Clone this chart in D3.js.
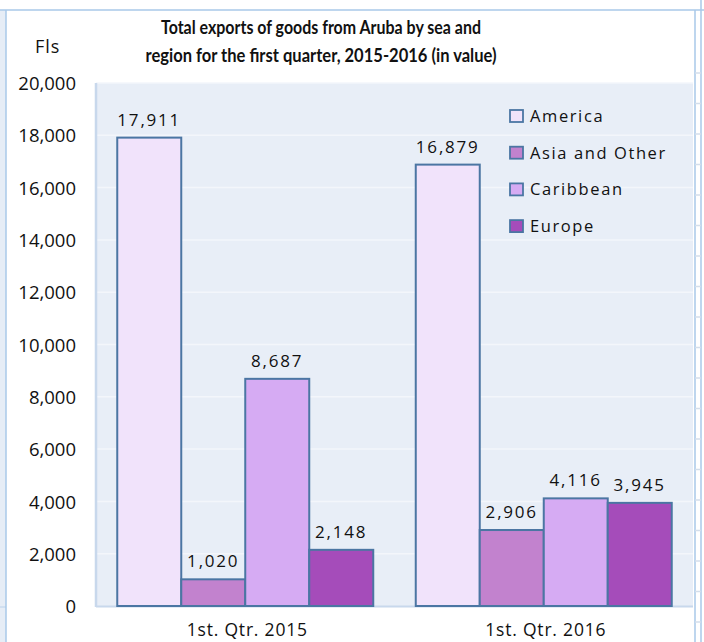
<!DOCTYPE html>
<html>
<head>
<meta charset="utf-8">
<script src="https://cdn.jsdelivr.net/npm/d3@7"></script>
<style>
  html, body { margin: 0; padding: 0; background: #ffffff; }
  svg { display: block; }
</style>
</head>
<body>
<svg id="chart" width="704" height="642"></svg>
<script>
// ---- data ----
const categories = ["1st. Qtr. 2015", "1st. Qtr. 2016"];
const seriesNames = ["America", "Asia and Other", "Caribbean", "Europe"];
const america = [17911, 16879];
const asiaOther = [1020, 2906];
const caribbean = [8687, 4116];
const europe = [2148, 3945];
const yTicks = [0, 2000, 4000, 6000, 8000, 10000, 12000, 14000, 16000, 18000, 20000];
const titleLines = ["Total exports of goods from Aruba by sea and",
                    "region for the first quarter, 2015-2016 (in value)"];
const unitLabel = "Fls";

const seriesValues = [america, asiaOther, caribbean, europe];
const colors = ["#F1E3FB", "#C282CE", "#D6ABF3", "#A54CBA"];

const svg = d3.select("#chart");
const W = 704, H = 642;
const plot = { left: 96, right: 693, top: 83, bottom: 606 };
const FONT = "'Open Sans', 'Liberation Sans', sans-serif";
const TITLE_FONT = "Lato, 'Open Sans', sans-serif";

// ---- frame (spreadsheet surroundings) ----
svg.append("rect").attr("x", 0).attr("y", 10).attr("width", 6).attr("height", H - 10).attr("fill", "#E6EDF6");
svg.append("line").attr("x1", 0).attr("x2", 6).attr("y1", 607).attr("y2", 607).attr("stroke", "#C9DAEE").attr("stroke-width", 1.5);
svg.append("rect").attr("x", 6).attr("y", 10).attr("width", 689).attr("height", H - 10).attr("fill", "#ffffff");
svg.append("line").attr("x1", 0).attr("x2", 704).attr("y1", 10).attr("y2", 10).attr("stroke", "#A9C8E8").attr("stroke-width", 1.5);
svg.append("line").attr("x1", 6).attr("x2", 6).attr("y1", 10).attr("y2", H).attr("stroke", "#A9C8E8").attr("stroke-width", 1.5);
svg.append("line").attr("x1", 695).attr("x2", 695).attr("y1", 10).attr("y2", H).attr("stroke", "#A9C8E8").attr("stroke-width", 1.5);
svg.append("line").attr("x1", 701).attr("x2", 701).attr("y1", 0).attr("y2", H).attr("stroke", "#A9C8E8").attr("stroke-width", 1.5);
const sideTicks = d3.range(0, 19).map(k => 622 - 30.5 * k).filter(v => v > 12);
svg.selectAll(".sidetick").data(sideTicks).join("line")
  .attr("x1", 695).attr("x2", 701).attr("y1", d => d).attr("y2", d => d)
  .attr("stroke", "#D3DEEB").attr("stroke-width", 1.5);

// ---- scales ----
const y = d3.scaleLinear().domain([0, 20000]).range([plot.bottom, plot.top]);
const x0 = d3.scaleBand().domain(categories).range([plot.left, plot.right])
  .paddingInner(0.1424).paddingOuter(0.0712);
const x1 = d3.scaleBand().domain(seriesNames).range([0, x0.bandwidth()]).padding(0);

// ---- plot area ----
svg.append("rect").attr("x", plot.left).attr("y", plot.top)
  .attr("width", plot.right - plot.left).attr("height", plot.bottom - plot.top)
  .attr("fill", "#E8EEF7");

svg.append("g").selectAll("line").data(yTicks.filter(t => t > 0)).join("line")
  .attr("x1", plot.left).attr("x2", plot.right)
  .attr("y1", d => y(d)).attr("y2", d => y(d))
  .attr("stroke", "#F3F6FB").attr("stroke-width", 1.5);

// left & bottom axis lines
svg.append("line").attr("x1", plot.left).attr("x2", plot.left).attr("y1", plot.top).attr("y2", plot.bottom + 1)
  .attr("stroke", "#C8D8EC").attr("stroke-width", 2.5);
svg.append("line").attr("x1", plot.left).attr("x2", plot.right).attr("y1", plot.bottom + 0.5).attr("y2", plot.bottom + 0.5)
  .attr("stroke", "#C8D8EC").attr("stroke-width", 2);

// ---- y axis ----
const yAxis = d3.axisLeft(y).tickValues(yTicks).tickFormat(d3.format(",")).tickSize(0).tickPadding(0);
const gy = svg.append("g").attr("transform", "translate(76,0)").call(yAxis);
gy.select(".domain").remove();
gy.selectAll("text").attr("font-family", FONT).attr("font-size", 18.5).attr("fill", "#111")
  .attr("dy", "0.36em");

// ---- x axis ----
const xAxis = d3.axisBottom(x0).tickSize(0).tickPadding(0);
const gx = svg.append("g").attr("transform", "translate(2,624)").call(xAxis);
gx.select(".domain").remove();
gx.selectAll("text").attr("font-family", FONT).attr("font-size", 17.5).attr("fill", "#111")
  .attr("letter-spacing", "0.8px").attr("dy", "0.71em");

// ---- bars ----
const rows = [];
categories.forEach((c, i) => seriesNames.forEach((s, j) => rows.push({ cat: c, ser: s, idx: j, v: seriesValues[j][i] })));

const g = svg.append("g");
g.selectAll("rect").data(rows).join("rect")
  .attr("x", d => x0(d.cat) + x1(d.ser))
  .attr("y", d => y(d.v))
  .attr("width", x1.bandwidth())
  .attr("height", d => y(0) - y(d.v))
  .attr("fill", d => colors[d.idx])
  .attr("stroke", "#4B76A3").attr("stroke-width", 2);

g.selectAll("text").data(rows).join("text")
  .attr("x", d => x0(d.cat) + x1(d.ser) + x1.bandwidth() / 2)
  .attr("y", d => y(d.v) - 12)
  .attr("text-anchor", "middle")
  .attr("font-family", FONT).attr("font-size", 17).attr("fill", "#111")
  .attr("letter-spacing", "1.8px")
  .text(d => d3.format(",")(d.v));

// ---- legend ----
const lg = svg.append("g").attr("transform", "translate(510,110)");
const li = lg.selectAll("g").data(seriesNames).join("g")
  .attr("transform", (d, i) => `translate(0,${i * 36.7})`);
li.append("rect").attr("width", 13).attr("height", 12).attr("fill", (d, i) => colors[i])
  .attr("stroke", "#4B76A3").attr("stroke-width", 1.8);
li.append("text").attr("x", 20).attr("y", 12)
  .attr("font-family", FONT).attr("font-size", 16.5).attr("fill", "#111")
  .attr("letter-spacing", "1.6px")
  .text(d => d);

// ---- title ----
const titleWidths = [320, 351];
const titleBaselines = [34, 62];
svg.append("g").selectAll("text").data(titleLines).join("text")
  .attr("x", 321).attr("y", (d, i) => titleBaselines[i])
  .attr("text-anchor", "middle")
  .attr("font-family", TITLE_FONT).attr("font-weight", "bold").attr("font-size", 18).attr("fill", "#111")
  .attr("textLength", (d, i) => titleWidths[i]).attr("lengthAdjust", "spacingAndGlyphs")
  .text(d => d);

// unit label
svg.append("text").attr("x", 35).attr("y", 53)
  .attr("font-family", FONT).attr("font-size", 18).attr("fill", "#111")
  .attr("letter-spacing", "1px")
  .text(unitLabel);
</script>
</body>
</html>
